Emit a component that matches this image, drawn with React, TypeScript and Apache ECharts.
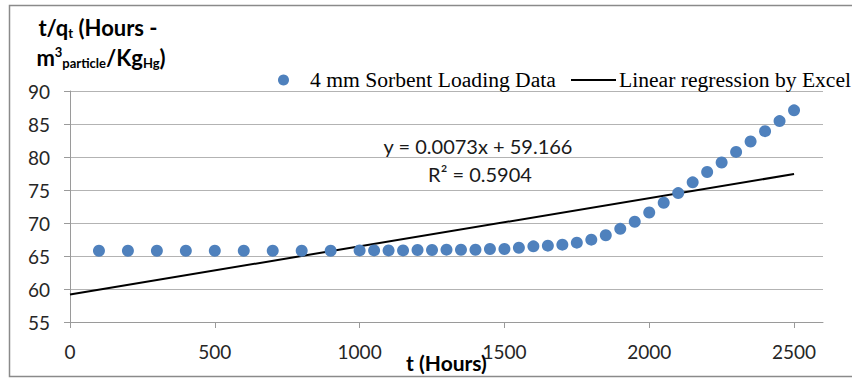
import React, { useEffect, useRef } from "react";
import * as echarts from "echarts";

// Sorbent loading run: elapsed time (h) against t/q_t
const hours = [
  100, 200, 300, 400, 500, 600, 700, 800, 900,
  1000, 1050, 1100, 1150, 1200, 1250, 1300, 1350, 1400, 1450, 1500,
  1550, 1600, 1650, 1700, 1750, 1800, 1850, 1900, 1950, 2000,
  2050, 2100, 2150, 2200, 2250, 2300, 2350, 2400, 2450, 2500,
];
const tOverQ = [
  65.8, 65.8, 65.8, 65.8, 65.8, 65.8, 65.8, 65.8, 65.8,
  65.85, 65.85, 65.85, 65.85, 65.9, 65.9, 65.96, 65.95, 65.95, 66.05, 66.07,
  66.26, 66.46, 66.57, 66.72, 67.02, 67.48, 68.14, 69.11, 70.18, 71.59,
  73.07, 74.53, 76.16, 77.72, 79.16, 80.77, 82.35, 83.92, 85.44, 87.07,
];

// Excel trendline fitted to the loading data
const fitSlope = 0.0073;
const fitIntercept = 59.166;
const fitR2 = 0.5904;
const fitSpan = [0, 2500];

const xTickValues = [0, 500, 1000, 1500, 2000, 2500];
const yTickRange = [55, 90];

const DATA_NAME = "4 mm Sorbent Loading Data";
const FIT_NAME = "Linear regression by Excel";

const SANS = "Lato, 'Open Sans', sans-serif";
const SERIF = "'Liberation Serif', 'Times New Roman', serif";
const GRID_GRAY = "#b3b3b3";
const AXIS_GRAY = "#9a9a9a";

export default function App() {
  const ref = useRef<HTMLDivElement>(null);

  useEffect(() => {
    if (!ref.current) return;
    const chart = echarts.init(ref.current, undefined, { renderer: "svg" });

    const points = hours.map((h, i) => [h, tOverQ[i]]);
    const fitLine = fitSpan.map((x) => [x, fitIntercept + fitSlope * x]);

    // sub/superscripts are shifted off the main line with asymmetric padding
    const titleRich = {
      b: { fontSize: 22, fontWeight: "bold", fontFamily: SANS, color: "#000", lineHeight: 30 },
      sub: { fontSize: 13, fontWeight: "bold", fontFamily: SANS, color: "#000", padding: [11, 0, 0, 0] },
      sup: { fontSize: 13, fontWeight: "bold", fontFamily: SANS, color: "#000", padding: [0, 0, 10, 0] },
    };
    const eqStyle = { fontSize: 20, fontFamily: SANS, fill: "#1a1a1a", align: "center", verticalAlign: "middle" };

    chart.setOption({
      animation: false,
      backgroundColor: "#ffffff",
      grid: { left: 70, right: 29, top: 91, bottom: 58, outerBoundsMode: "none", containLabel: false },
      legend: [
        {
          data: [{ name: DATA_NAME, icon: "circle" }],
          left: 273,
          top: 64,
          itemWidth: 11,
          itemHeight: 11,
          textStyle: { fontFamily: SERIF, fontSize: 21.6, color: "#000", padding: [0, 0, 0, 16] },
          selectedMode: false,
        },
        {
          data: [{ name: FIT_NAME, icon: "rect" }],
          left: 566,
          top: 64,
          itemWidth: 45,
          itemHeight: 2,
          itemGap: 0,
          textStyle: { fontFamily: SERIF, fontSize: 21.6, color: "#000", padding: [0, 0, 0, -2] },
          selectedMode: false,
        },
      ],
      xAxis: {
        type: "value",
        min: 0,
        max: 2600,
        interval: 500,
        name: "t (Hours)",
        nameLocation: "middle",
        nameGap: 30,
        nameMoveOverlap: false,
        nameTextStyle: { fontFamily: SANS, fontSize: 21, fontWeight: "bold", color: "#000" },
        axisLine: { show: true, onZero: false, lineStyle: { color: AXIS_GRAY, width: 1 } },
        axisTick: { show: true, length: 6, customValues: xTickValues, lineStyle: { color: AXIS_GRAY } },
        axisLabel: {
          customValues: xTickValues,
          margin: 20,
          fontFamily: SANS,
          fontSize: 19,
          color: "#262626",
          formatter: (v: number) => String(v),
        },
        splitLine: { show: false },
      },
      yAxis: {
        type: "value",
        min: yTickRange[0],
        max: yTickRange[1],
        interval: 5,
        axisLine: { show: true, lineStyle: { color: AXIS_GRAY, width: 1 } },
        axisTick: { show: true, length: 6, lineStyle: { color: AXIS_GRAY } },
        axisLabel: { margin: 20, fontFamily: SANS, fontSize: 19, color: "#262626" },
        splitLine: { show: true, lineStyle: { color: GRID_GRAY, width: 1 } },
      },
      series: [
        {
          name: DATA_NAME,
          type: "scatter",
          data: points,
          symbol: "circle",
          symbolSize: 12,
          itemStyle: { color: "#4f81bd", opacity: 1 },
          z: 3,
        },
        {
          name: FIT_NAME,
          type: "line",
          data: fitLine,
          symbol: "none",
          color: "#000",
          lineStyle: { color: "#000", width: 2 },
          itemStyle: { color: "#000" },
          z: 2,
        },
      ],
      graphic: [
        {
          type: "rect",
          silent: true,
          shape: { x: 9.5, y: 5.5, width: 900, height: 371 },
          style: { fill: "none", stroke: "#8a8a8a", lineWidth: 1.5 },
        },
        {
          type: "text",
          x: 98,
          y: 27,
          style: {
            text: "{b|t/q}{sub|t}{b| (Hours -}",
            rich: titleRich,
            align: "center",
            verticalAlign: "middle",
          },
        },
        {
          type: "text",
          x: 101,
          y: 57,
          style: {
            text: "{b|m}{sup|3}{sub|particle}{b|/Kg}{sub|Hg}{b|)}",
            rich: titleRich,
            align: "center",
            verticalAlign: "middle",
          },
        },
        {
          type: "text",
          x: 478,
          y: 146,
          style: { ...eqStyle, text: `y = ${fitSlope}x + ${fitIntercept}` },
        },
        {
          type: "text",
          x: 480,
          y: 174,
          style: { ...eqStyle, text: `R² = ${fitR2}` },
        },
      ],
    });

    return () => chart.dispose();
  }, []);

  return (
    <div
      ref={ref}
      style={{ position: "absolute", left: 0, top: 0, width: 852, height: 380 }}
    />
  );
}
